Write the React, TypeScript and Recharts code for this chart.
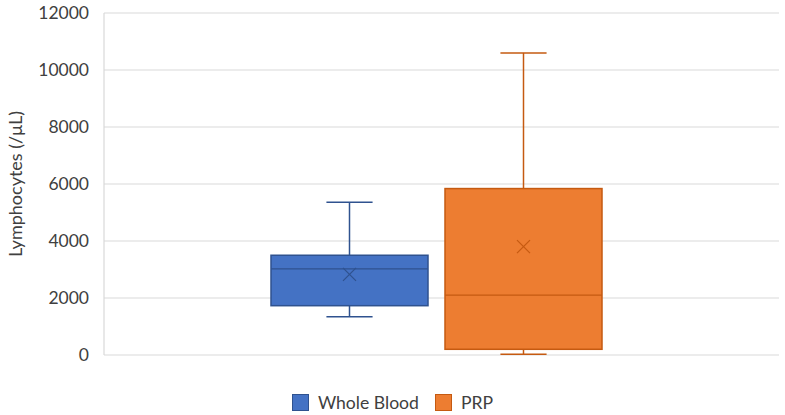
import React from 'react';
import { ComposedChart, Bar, XAxis, YAxis, CartesianGrid, Legend, Label } from 'recharts';

const categories = ['Lymphocytes'];
const seriesNames = ['Whole Blood', 'PRP'];
const seriesFills = ['#4472C4', '#ED7D31'];
const seriesStrokes = ['#2F528F', '#C55A11'];
const minValues = [1340, 25];
const q1Values = [1730, 200];
const medianValues = [3020, 2100];
const q3Values = [3500, 5840];
const maxValues = [5360, 10600];
const meanValues = [2830, 3800];
const yTicks = [0, 2000, 4000, 6000, 8000, 10000, 12000];
const yLabel = 'Lymphocytes (/μL)';

const FONT = 'Lato, "Open Sans", sans-serif';
const TEXT = '#404040';
const GRID = '#d9d9d9';

const data = categories.map((c) => {
  const row: any = { category: c };
  seriesNames.forEach((_, i) => {
    row[`range${i}`] = [minValues[i], maxValues[i]];
  });
  return row;
});

const renderBox = (p: any, s: number) => {
  const { x, y, width, height } = p;
  if (x == null || y == null) return <g />;
  const top = Math.min(y, y + height);
  const h = Math.abs(height);
  const min = minValues[s];
  const max = maxValues[s];
  const yOf = (v: number) => top + (h * (max - v)) / (max - min);
  const cx = x + width / 2;
  const cap = width * 0.147;
  const stroke = seriesStrokes[s];
  const fill = seriesFills[s];
  const yMax = yOf(max);
  const yQ3 = yOf(q3Values[s]);
  const yMed = yOf(medianValues[s]);
  const yQ1 = yOf(q1Values[s]);
  const yMin = yOf(min);
  const yMean = yOf(meanValues[s]);
  const m = 6.5;
  return (
    <g>
      <line x1={cx} x2={cx} y1={yMax} y2={yQ3} stroke={stroke} strokeWidth={1.5} />
      <line x1={cx - cap} x2={cx + cap} y1={yMax} y2={yMax} stroke={stroke} strokeWidth={1.5} />
      <line x1={cx} x2={cx} y1={yQ1} y2={yMin} stroke={stroke} strokeWidth={1.5} />
      <line x1={cx - cap} x2={cx + cap} y1={yMin} y2={yMin} stroke={stroke} strokeWidth={1.5} />
      <rect x={x} y={yQ3} width={width} height={yQ1 - yQ3} fill={fill} stroke={stroke} strokeWidth={1.5} />
      <line x1={x} x2={x + width} y1={yMed} y2={yMed} stroke={stroke} strokeWidth={1.2} />
      <line x1={cx - m} x2={cx + m} y1={yMean - m} y2={yMean + m} stroke={stroke} strokeWidth={1.2} />
      <line x1={cx - m} x2={cx + m} y1={yMean + m} y2={yMean - m} stroke={stroke} strokeWidth={1.2} />
    </g>
  );
};

const renderYLabel = (props: any) => {
  const vb = props.viewBox || {};
  const cx = (vb.x || 0) + 15;
  const cy = (vb.y || 0) + (vb.height || 0) / 2;
  return (
    <text
      x={cx}
      y={cy}
      transform={`rotate(-90, ${cx}, ${cy})`}
      textAnchor="middle"
      dominantBaseline="central"
      fill={TEXT}
      fontSize={18}
      fontFamily={FONT}
    >
      {yLabel}
    </text>
  );
};

const renderLegend = () => (
  <div
    style={{
      height: 56,
      boxSizing: 'border-box',
      paddingTop: 39,
      display: 'flex',
      justifyContent: 'center',
      alignItems: 'flex-start',
      paddingLeft: 6,
      fontFamily: FONT,
      fontSize: 17.6,
      color: TEXT,
    }}
  >
    {seriesNames.map((n, i) => (
      <div key={n} style={{ display: 'flex', alignItems: 'center', marginRight: i < seriesNames.length - 1 ? 16 : 0 }}>
        <div
          style={{
            width: 15,
            height: 15,
            background: seriesFills[i],
            border: `1px solid ${seriesStrokes[i]}`,
            marginRight: 9,
          }}
        />
        <span style={{ lineHeight: '17px' }}>{n}</span>
      </div>
    ))}
  </div>
);

export default function App() {
  return (
    <div style={{ position: 'absolute', left: 0, top: 0, width: 785, height: 415, background: '#fff' }}>
      <ComposedChart
        width={785}
        height={415}
        data={data}
        margin={{ top: 13, right: 6, bottom: 4, left: 0 }}
        barSize={157}
        barGap={17}
      >
        <CartesianGrid yAxisId="left" vertical={false} stroke={GRID} strokeWidth={1.2} />
        <XAxis
          dataKey="category"
          tick={false}
          tickLine={false}
          axisLine={false}
          height={0}
          padding={{ left: 0, right: 10 }}
        />
        <YAxis
          yAxisId="left"
          width={104}
          domain={[0, 12000]}
          ticks={yTicks}
          interval={0}
          tickLine={false}
          tickSize={0}
          tickMargin={15}
          axisLine={{ stroke: GRID, strokeWidth: 1.2 }}
          tick={{ fill: TEXT, fontSize: 17.5, fontFamily: FONT }}
        >
          <Label content={renderYLabel} />
        </YAxis>
        <YAxis
          yAxisId="right"
          orientation="right"
          width={0}
          domain={[0, 12000]}
          tick={false}
          tickLine={false}
          axisLine={{ stroke: GRID, strokeWidth: 1.2 }}
        />
        {seriesNames.map((n, i) => (
          <Bar
            key={n}
            yAxisId="left"
            name={n}
            dataKey={`range${i}`}
            fill={seriesFills[i]}
            isAnimationActive={false}
            shape={(p: any) => renderBox(p, i)}
          />
        ))}
        <Legend verticalAlign="bottom" content={renderLegend} />
      </ComposedChart>
    </div>
  );
}
